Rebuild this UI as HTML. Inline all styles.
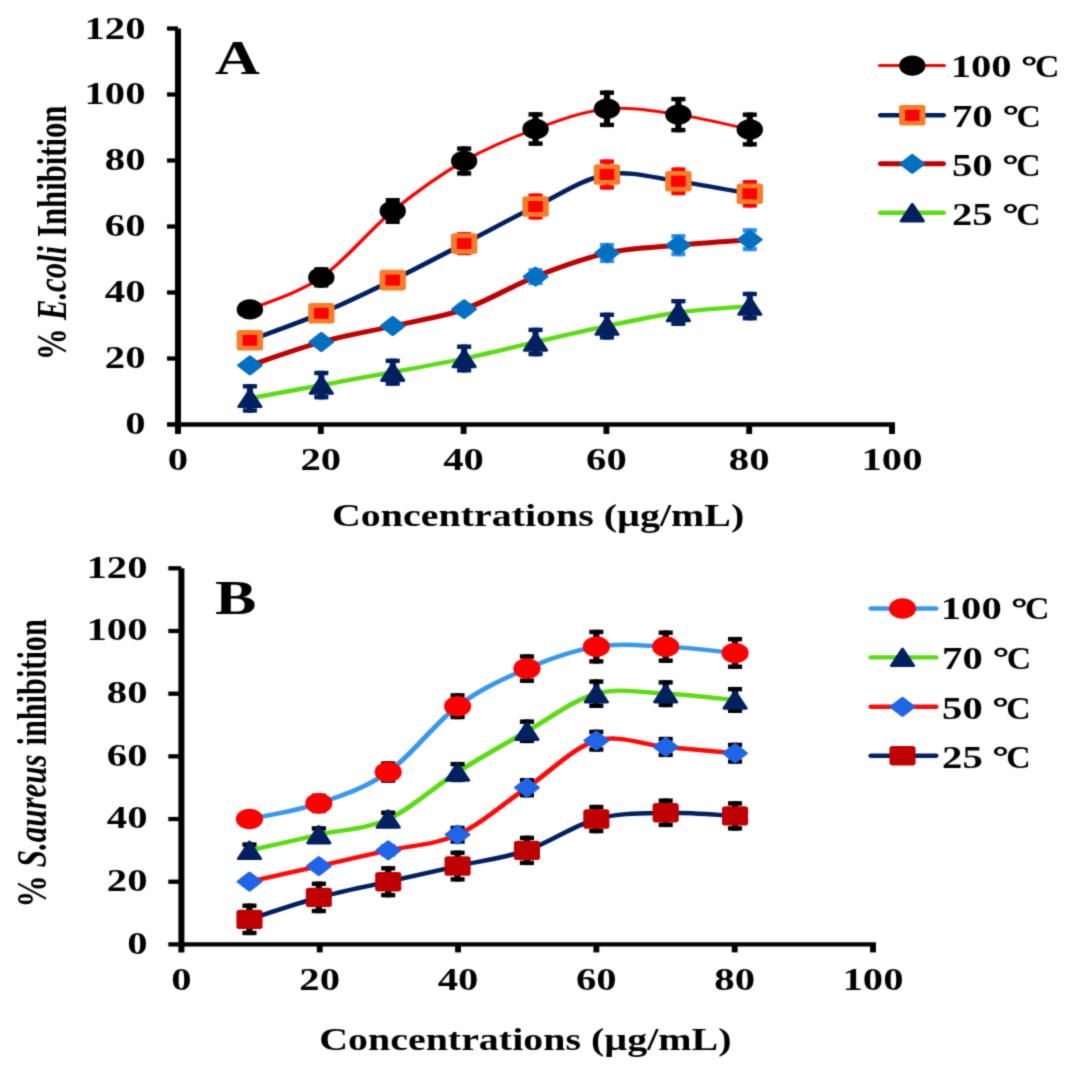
<!DOCTYPE html>
<html><head><meta charset="utf-8"><style>
html,body{margin:0;padding:0;background:#fff;}
svg{display:block;}
</style></head><body>
<svg width="1069" height="1069" viewBox="0 0 1069 1069">
<defs><filter id="bl" x="0" y="0" width="1069" height="1069" filterUnits="userSpaceOnUse" color-interpolation-filters="sRGB"><feConvolveMatrix order="3" kernelMatrix="0.02768 0.11101 0.02768 0.11101 0.44521 0.11101 0.02768 0.11101 0.02768" edgeMode="duplicate"/></filter></defs>
<rect width="1069" height="1069" fill="#fff"/>
<g filter="url(#bl)">
<g transform="scale(1.28,1)" font-family='"Liberation Serif", serif' font-weight="bold" fill="#000">
<g stroke="#000" stroke-linecap="butt" fill="none"><line x1="139.06" y1="28.50" x2="139.06" y2="434.00" stroke-width="4.7"/><line x1="130.47" y1="424.50" x2="699.17" y2="424.50" stroke-width="4.3"/><line x1="130.47" y1="358.50" x2="139.06" y2="358.50" stroke-width="4.3"/><line x1="130.47" y1="292.50" x2="139.06" y2="292.50" stroke-width="4.3"/><line x1="130.47" y1="226.50" x2="139.06" y2="226.50" stroke-width="4.3"/><line x1="130.47" y1="160.50" x2="139.06" y2="160.50" stroke-width="4.3"/><line x1="130.47" y1="94.50" x2="139.06" y2="94.50" stroke-width="4.3"/><line x1="130.47" y1="28.50" x2="139.06" y2="28.50" stroke-width="4.3"/><line x1="250.62" y1="424.50" x2="250.62" y2="434.00" stroke-width="4.6"/><line x1="362.19" y1="424.50" x2="362.19" y2="434.00" stroke-width="4.6"/><line x1="473.75" y1="424.50" x2="473.75" y2="434.00" stroke-width="4.6"/><line x1="585.31" y1="424.50" x2="585.31" y2="434.00" stroke-width="4.6"/><line x1="696.88" y1="424.50" x2="696.88" y2="434.00" stroke-width="4.6"/></g>
<text x="113.67" y="434.03" font-size="31.8" text-anchor="end">0</text>
<text x="113.67" y="368.03" font-size="31.8" text-anchor="end">20</text>
<text x="113.67" y="302.03" font-size="31.8" text-anchor="end">40</text>
<text x="113.67" y="236.03" font-size="31.8" text-anchor="end">60</text>
<text x="113.67" y="170.03" font-size="31.8" text-anchor="end">80</text>
<text x="113.67" y="104.04" font-size="31.8" text-anchor="end">100</text>
<text x="113.67" y="38.84" font-size="31.8" text-anchor="end">120</text>
<text x="139.06" y="470.20" font-size="31.8" text-anchor="middle">0</text>
<text x="250.62" y="470.20" font-size="31.8" text-anchor="middle">20</text>
<text x="362.19" y="470.20" font-size="31.8" text-anchor="middle">40</text>
<text x="473.75" y="470.20" font-size="31.8" text-anchor="middle">60</text>
<text x="585.31" y="470.20" font-size="31.8" text-anchor="middle">80</text>
<text x="696.88" y="470.20" font-size="31.8" text-anchor="middle">100</text>
<path d="M195.24,398.40 C204.54,396.18 232.43,389.47 251.03,385.10 C269.63,380.73 288.22,376.63 306.82,372.20 C325.42,367.77 344.01,363.53 362.61,358.50 C381.21,353.47 399.80,347.40 418.40,342.00 C436.99,336.60 455.59,331.02 474.19,326.10 C492.78,321.18 511.38,315.83 529.98,312.50 C548.57,309.17 576.47,307.17 585.77,306.10" fill="none" stroke="#5bdc14" stroke-width="4.4" stroke-linecap="round"/>
<rect x="192.84" y="384.10" width="4.80" height="28.60" fill="#002060"/><rect x="189.74" y="384.10" width="11.00" height="4.40" fill="#002060"/><rect x="189.74" y="408.30" width="11.00" height="4.40" fill="#002060"/><rect x="248.63" y="370.80" width="4.80" height="28.60" fill="#002060"/><rect x="245.53" y="370.80" width="11.00" height="4.40" fill="#002060"/><rect x="245.53" y="395.00" width="11.00" height="4.40" fill="#002060"/><rect x="304.42" y="358.60" width="4.80" height="27.20" fill="#002060"/><rect x="301.32" y="358.60" width="11.00" height="4.40" fill="#002060"/><rect x="301.32" y="381.40" width="11.00" height="4.40" fill="#002060"/><rect x="360.21" y="344.50" width="4.80" height="28.00" fill="#002060"/><rect x="357.11" y="344.50" width="11.00" height="4.40" fill="#002060"/><rect x="357.11" y="368.10" width="11.00" height="4.40" fill="#002060"/><rect x="416.00" y="327.70" width="4.80" height="28.60" fill="#002060"/><rect x="412.90" y="327.70" width="11.00" height="4.40" fill="#002060"/><rect x="412.90" y="351.90" width="11.00" height="4.40" fill="#002060"/><rect x="471.79" y="312.60" width="4.80" height="27.00" fill="#002060"/><rect x="468.69" y="312.60" width="11.00" height="4.40" fill="#002060"/><rect x="468.69" y="335.20" width="11.00" height="4.40" fill="#002060"/><rect x="527.58" y="299.00" width="4.80" height="27.00" fill="#002060"/><rect x="524.48" y="299.00" width="11.00" height="4.40" fill="#002060"/><rect x="524.48" y="321.60" width="11.00" height="4.40" fill="#002060"/><rect x="583.37" y="291.80" width="4.80" height="28.60" fill="#002060"/><rect x="580.27" y="291.80" width="11.00" height="4.40" fill="#002060"/><rect x="580.27" y="316.00" width="11.00" height="4.40" fill="#002060"/><path d="M195.24,390.00 L203.84,406.80 L186.64,406.80Z" fill="#002060" stroke="#002060" stroke-width="2.6" stroke-linejoin="round"/><path d="M251.03,376.70 L259.63,393.50 L242.43,393.50Z" fill="#002060" stroke="#002060" stroke-width="2.6" stroke-linejoin="round"/><path d="M306.82,363.80 L315.42,380.60 L298.22,380.60Z" fill="#002060" stroke="#002060" stroke-width="2.6" stroke-linejoin="round"/><path d="M362.61,350.10 L371.21,366.90 L354.01,366.90Z" fill="#002060" stroke="#002060" stroke-width="2.6" stroke-linejoin="round"/><path d="M418.40,333.60 L427.00,350.40 L409.80,350.40Z" fill="#002060" stroke="#002060" stroke-width="2.6" stroke-linejoin="round"/><path d="M474.19,317.70 L482.79,334.50 L465.59,334.50Z" fill="#002060" stroke="#002060" stroke-width="2.6" stroke-linejoin="round"/><path d="M529.98,304.10 L538.58,320.90 L521.38,320.90Z" fill="#002060" stroke="#002060" stroke-width="2.6" stroke-linejoin="round"/><path d="M585.77,297.70 L594.37,314.50 L577.17,314.50Z" fill="#002060" stroke="#002060" stroke-width="2.6" stroke-linejoin="round"/>
<path d="M195.24,365.40 C204.54,361.50 232.43,348.57 251.03,342.00 C269.63,335.43 288.22,331.47 306.82,326.00 C325.42,320.53 344.01,317.43 362.61,309.20 C381.21,300.97 399.80,285.97 418.40,276.60 C436.99,267.23 455.59,258.23 474.19,253.00 C492.78,247.77 511.38,247.42 529.98,245.20 C548.57,242.98 576.47,240.62 585.77,239.70" fill="none" stroke="#c00000" stroke-width="4.9" stroke-linecap="round"/>
<rect x="192.84" y="360.40" width="4.80" height="10.00" fill="#2f8ff0"/><rect x="189.74" y="360.40" width="11.00" height="4.40" fill="#2f8ff0"/><rect x="189.74" y="366.00" width="11.00" height="4.40" fill="#2f8ff0"/><rect x="248.63" y="337.00" width="4.80" height="10.00" fill="#2f8ff0"/><rect x="245.53" y="337.00" width="11.00" height="4.40" fill="#2f8ff0"/><rect x="245.53" y="342.60" width="11.00" height="4.40" fill="#2f8ff0"/><rect x="304.42" y="321.00" width="4.80" height="10.00" fill="#2f8ff0"/><rect x="301.32" y="321.00" width="11.00" height="4.40" fill="#2f8ff0"/><rect x="301.32" y="326.60" width="11.00" height="4.40" fill="#2f8ff0"/><rect x="360.21" y="303.20" width="4.80" height="12.00" fill="#2f8ff0"/><rect x="357.11" y="303.20" width="11.00" height="4.40" fill="#2f8ff0"/><rect x="357.11" y="310.80" width="11.00" height="4.40" fill="#2f8ff0"/><rect x="416.00" y="268.10" width="4.80" height="17.00" fill="#2f8ff0"/><rect x="412.90" y="268.10" width="11.00" height="4.40" fill="#2f8ff0"/><rect x="412.90" y="280.70" width="11.00" height="4.40" fill="#2f8ff0"/><rect x="471.79" y="242.90" width="4.80" height="20.20" fill="#2f8ff0"/><rect x="468.69" y="242.90" width="11.00" height="4.40" fill="#2f8ff0"/><rect x="468.69" y="258.70" width="11.00" height="4.40" fill="#2f8ff0"/><rect x="527.58" y="234.10" width="4.80" height="22.20" fill="#2f8ff0"/><rect x="524.48" y="234.10" width="11.00" height="4.40" fill="#2f8ff0"/><rect x="524.48" y="251.90" width="11.00" height="4.40" fill="#2f8ff0"/><rect x="583.37" y="228.20" width="4.80" height="23.00" fill="#2f8ff0"/><rect x="580.27" y="228.20" width="11.00" height="4.40" fill="#2f8ff0"/><rect x="580.27" y="246.80" width="11.00" height="4.40" fill="#2f8ff0"/><path d="M195.24,356.60 L204.14,365.40 L195.24,374.20 L186.34,365.40Z" fill="#0070c0" stroke="#0070c0" stroke-width="2.40" stroke-linejoin="round"/><path d="M251.03,333.20 L259.93,342.00 L251.03,350.80 L242.13,342.00Z" fill="#0070c0" stroke="#0070c0" stroke-width="2.40" stroke-linejoin="round"/><path d="M306.82,317.20 L315.72,326.00 L306.82,334.80 L297.92,326.00Z" fill="#0070c0" stroke="#0070c0" stroke-width="2.40" stroke-linejoin="round"/><path d="M362.61,300.40 L371.51,309.20 L362.61,318.00 L353.71,309.20Z" fill="#0070c0" stroke="#0070c0" stroke-width="2.40" stroke-linejoin="round"/><path d="M418.40,267.80 L427.30,276.60 L418.40,285.40 L409.50,276.60Z" fill="#0070c0" stroke="#0070c0" stroke-width="2.40" stroke-linejoin="round"/><path d="M474.19,244.20 L483.09,253.00 L474.19,261.80 L465.29,253.00Z" fill="#0070c0" stroke="#0070c0" stroke-width="2.40" stroke-linejoin="round"/><path d="M529.98,236.40 L538.88,245.20 L529.98,254.00 L521.08,245.20Z" fill="#0070c0" stroke="#0070c0" stroke-width="2.40" stroke-linejoin="round"/><path d="M585.77,230.90 L594.67,239.70 L585.77,248.50 L576.87,239.70Z" fill="#0070c0" stroke="#0070c0" stroke-width="2.40" stroke-linejoin="round"/>
<path d="M195.24,340.30 C204.54,335.80 232.43,323.33 251.03,313.30 C269.63,303.27 288.22,291.72 306.82,280.10 C325.42,268.48 344.01,255.87 362.61,243.60 C381.21,231.33 399.80,218.02 418.40,206.50 C436.99,194.98 455.59,178.70 474.19,174.50 C492.78,170.30 511.38,178.08 529.98,181.30 C548.57,184.52 576.47,191.72 585.77,193.80" fill="none" stroke="#002060" stroke-width="4.4" stroke-linecap="round"/>
<rect x="192.84" y="333.30" width="4.80" height="14.00" fill="#ff0000"/><rect x="189.74" y="333.30" width="11.00" height="4.40" fill="#ff0000"/><rect x="189.74" y="342.90" width="11.00" height="4.40" fill="#ff0000"/><rect x="248.63" y="306.30" width="4.80" height="14.00" fill="#ff0000"/><rect x="245.53" y="306.30" width="11.00" height="4.40" fill="#ff0000"/><rect x="245.53" y="315.90" width="11.00" height="4.40" fill="#ff0000"/><rect x="304.42" y="273.10" width="4.80" height="14.00" fill="#ff0000"/><rect x="301.32" y="273.10" width="11.00" height="4.40" fill="#ff0000"/><rect x="301.32" y="282.70" width="11.00" height="4.40" fill="#ff0000"/><rect x="360.21" y="232.10" width="4.80" height="23.00" fill="#ff0000"/><rect x="357.11" y="232.10" width="11.00" height="4.40" fill="#ff0000"/><rect x="357.11" y="250.70" width="11.00" height="4.40" fill="#ff0000"/><rect x="416.00" y="193.50" width="4.80" height="26.00" fill="#ff0000"/><rect x="412.90" y="193.50" width="11.00" height="4.40" fill="#ff0000"/><rect x="412.90" y="215.10" width="11.00" height="4.40" fill="#ff0000"/><rect x="471.79" y="159.40" width="4.80" height="30.20" fill="#ff0000"/><rect x="468.69" y="159.40" width="11.00" height="4.40" fill="#ff0000"/><rect x="468.69" y="185.20" width="11.00" height="4.40" fill="#ff0000"/><rect x="527.58" y="167.40" width="4.80" height="27.80" fill="#ff0000"/><rect x="524.48" y="167.40" width="11.00" height="4.40" fill="#ff0000"/><rect x="524.48" y="190.80" width="11.00" height="4.40" fill="#ff0000"/><rect x="583.37" y="180.00" width="4.80" height="27.60" fill="#ff0000"/><rect x="580.27" y="180.00" width="11.00" height="4.40" fill="#ff0000"/><rect x="580.27" y="203.20" width="11.00" height="4.40" fill="#ff0000"/><rect x="184.94" y="330.00" width="20.60" height="20.60" rx="2.6" fill="#f77d28"/><rect x="189.54" y="334.80" width="11.40" height="11.00" fill="#ff0000"/><rect x="240.73" y="303.00" width="20.60" height="20.60" rx="2.6" fill="#f77d28"/><rect x="245.33" y="307.80" width="11.40" height="11.00" fill="#ff0000"/><rect x="296.52" y="269.80" width="20.60" height="20.60" rx="2.6" fill="#f77d28"/><rect x="301.12" y="274.60" width="11.40" height="11.00" fill="#ff0000"/><rect x="352.31" y="233.30" width="20.60" height="20.60" rx="2.6" fill="#f77d28"/><rect x="356.91" y="238.10" width="11.40" height="11.00" fill="#ff0000"/><rect x="408.10" y="196.20" width="20.60" height="20.60" rx="2.6" fill="#f77d28"/><rect x="412.70" y="201.00" width="11.40" height="11.00" fill="#ff0000"/><rect x="463.89" y="164.20" width="20.60" height="20.60" rx="2.6" fill="#f77d28"/><rect x="468.49" y="169.00" width="11.40" height="11.00" fill="#ff0000"/><rect x="519.68" y="171.00" width="20.60" height="20.60" rx="2.6" fill="#f77d28"/><rect x="524.28" y="175.80" width="11.40" height="11.00" fill="#ff0000"/><rect x="575.47" y="183.50" width="20.60" height="20.60" rx="2.6" fill="#f77d28"/><rect x="580.07" y="188.30" width="11.40" height="11.00" fill="#ff0000"/>
<path d="M195.24,309.40 C204.54,304.07 232.43,293.80 251.03,277.40 C269.63,261.00 288.22,230.40 306.82,211.00 C325.42,191.60 344.01,174.67 362.61,161.00 C381.21,147.33 399.80,137.70 418.40,129.00 C436.99,120.30 455.59,111.20 474.19,108.80 C492.78,106.40 511.38,111.15 529.98,114.60 C548.57,118.05 576.47,127.02 585.77,129.50" fill="none" stroke="#ff0000" stroke-width="3.0" stroke-linecap="round"/>
<rect x="192.84" y="301.40" width="4.80" height="16.00" fill="#000000"/><rect x="189.74" y="301.40" width="11.00" height="4.40" fill="#000000"/><rect x="189.74" y="313.00" width="11.00" height="4.40" fill="#000000"/><rect x="248.63" y="267.20" width="4.80" height="20.40" fill="#000000"/><rect x="245.53" y="267.20" width="11.00" height="4.40" fill="#000000"/><rect x="245.53" y="283.20" width="11.00" height="4.40" fill="#000000"/><rect x="304.42" y="198.00" width="4.80" height="26.00" fill="#000000"/><rect x="301.32" y="198.00" width="11.00" height="4.40" fill="#000000"/><rect x="301.32" y="219.60" width="11.00" height="4.40" fill="#000000"/><rect x="360.21" y="146.40" width="4.80" height="29.20" fill="#000000"/><rect x="357.11" y="146.40" width="11.00" height="4.40" fill="#000000"/><rect x="357.11" y="171.20" width="11.00" height="4.40" fill="#000000"/><rect x="416.00" y="112.20" width="4.80" height="33.60" fill="#000000"/><rect x="412.90" y="112.20" width="11.00" height="4.40" fill="#000000"/><rect x="412.90" y="141.40" width="11.00" height="4.40" fill="#000000"/><rect x="471.79" y="90.50" width="4.80" height="36.60" fill="#000000"/><rect x="468.69" y="90.50" width="11.00" height="4.40" fill="#000000"/><rect x="468.69" y="122.70" width="11.00" height="4.40" fill="#000000"/><rect x="527.58" y="96.90" width="4.80" height="35.40" fill="#000000"/><rect x="524.48" y="96.90" width="11.00" height="4.40" fill="#000000"/><rect x="524.48" y="127.90" width="11.00" height="4.40" fill="#000000"/><rect x="583.37" y="112.50" width="4.80" height="34.00" fill="#000000"/><rect x="580.27" y="112.50" width="11.00" height="4.40" fill="#000000"/><rect x="580.27" y="142.10" width="11.00" height="4.40" fill="#000000"/><ellipse cx="195.24" cy="309.40" rx="10.30" ry="10.20" fill="#000000"/><ellipse cx="251.03" cy="277.40" rx="10.30" ry="10.20" fill="#000000"/><ellipse cx="306.82" cy="211.00" rx="10.30" ry="10.20" fill="#000000"/><ellipse cx="362.61" cy="161.00" rx="10.30" ry="10.20" fill="#000000"/><ellipse cx="418.40" cy="129.00" rx="10.30" ry="10.20" fill="#000000"/><ellipse cx="474.19" cy="108.80" rx="10.30" ry="10.20" fill="#000000"/><ellipse cx="529.98" cy="114.60" rx="10.30" ry="10.20" fill="#000000"/><ellipse cx="585.77" cy="129.50" rx="10.30" ry="10.20" fill="#000000"/>
<line x1="687.44" y1="65.60" x2="737.56" y2="65.60" stroke="#ff0000" stroke-width="3.0" stroke-linecap="round"/>
<ellipse cx="712.73" cy="65.60" rx="10.30" ry="10.20" fill="#000000"/>
<line x1="688.14" y1="115.30" x2="736.86" y2="115.30" stroke="#002060" stroke-width="4.4" stroke-linecap="round"/>
<rect x="702.43" y="105.00" width="20.60" height="20.60" rx="2.6" fill="#f77d28"/><rect x="707.03" y="109.80" width="11.40" height="11.00" fill="#ff0000"/>
<line x1="688.39" y1="163.80" x2="736.61" y2="163.80" stroke="#c00000" stroke-width="4.9" stroke-linecap="round"/>
<path d="M712.73,155.00 L721.63,163.80 L712.73,172.60 L703.83,163.80Z" fill="#0070c0" stroke="#0070c0" stroke-width="2.40" stroke-linejoin="round"/>
<line x1="688.14" y1="212.80" x2="736.86" y2="212.80" stroke="#5bdc14" stroke-width="4.4" stroke-linecap="round"/>
<path d="M712.73,204.40 L721.33,221.20 L704.13,221.20Z" fill="#002060" stroke="#002060" stroke-width="2.6" stroke-linejoin="round"/>
<text x="742.69" y="77.43" font-size="31.8" text-anchor="start">100</text>
<path fill-rule="evenodd" d="M798.95,61.00 a5.12,4.35 0 1,0 10.23,0 a5.12,4.35 0 1,0 -10.23,0 Z M801.56,61.00 a2.50,2.55 0 1,0 5.00,0 a2.50,2.55 0 1,0 -5.00,0 Z"/>
<text x="808.60" y="77.43" font-size="31.8" text-anchor="start" textLength="19.08" lengthAdjust="spacingAndGlyphs">C</text>
<text x="743.71" y="126.63" font-size="31.8" text-anchor="start">70</text>
<path fill-rule="evenodd" d="M784.57,110.20 a5.12,4.35 0 1,0 10.23,0 a5.12,4.35 0 1,0 -10.23,0 Z M787.19,110.20 a2.50,2.55 0 1,0 5.00,0 a2.50,2.55 0 1,0 -5.00,0 Z"/>
<text x="794.23" y="126.63" font-size="31.8" text-anchor="start" textLength="19.08" lengthAdjust="spacingAndGlyphs">C</text>
<text x="743.71" y="176.13" font-size="31.8" text-anchor="start">50</text>
<path fill-rule="evenodd" d="M784.26,159.70 a5.12,4.35 0 1,0 10.23,0 a5.12,4.35 0 1,0 -10.23,0 Z M786.88,159.70 a2.50,2.55 0 1,0 5.00,0 a2.50,2.55 0 1,0 -5.00,0 Z"/>
<text x="793.91" y="176.13" font-size="31.8" text-anchor="start" textLength="19.08" lengthAdjust="spacingAndGlyphs">C</text>
<text x="743.71" y="225.03" font-size="31.8" text-anchor="start">25</text>
<path fill-rule="evenodd" d="M784.26,208.60 a5.12,4.35 0 1,0 10.23,0 a5.12,4.35 0 1,0 -10.23,0 Z M786.88,208.60 a2.50,2.55 0 1,0 5.00,0 a2.50,2.55 0 1,0 -5.00,0 Z"/>
<text x="793.91" y="225.03" font-size="31.8" text-anchor="start" textLength="19.08" lengthAdjust="spacingAndGlyphs">C</text>
<text x="167.97" y="73.60" font-size="48.5" text-anchor="start">A</text>
<text x="0" y="0" font-size="32.4" textLength="32.10" lengthAdjust="spacingAndGlyphs" transform="translate(51.56,360.21) rotate(-90)">%</text>
<text x="0" y="0" font-size="32.4" font-style="italic" textLength="73.99" lengthAdjust="spacingAndGlyphs" transform="translate(51.56,319.99) rotate(-90)">E.coli</text>
<text x="0" y="0" font-size="32.4" textLength="131.33" lengthAdjust="spacingAndGlyphs" transform="translate(51.56,236.92) rotate(-90)">Inhibition</text>
<text x="259.38" y="526.30" font-size="31.2" text-anchor="start">Concentrations (µg/mL)</text>
<g stroke="#000" stroke-linecap="butt" fill="none"><line x1="141.72" y1="568.32" x2="141.72" y2="952.40" stroke-width="4.7"/><line x1="131.48" y1="944.40" x2="684.33" y2="944.40" stroke-width="4.3"/><line x1="131.48" y1="881.72" x2="141.72" y2="881.72" stroke-width="4.3"/><line x1="131.48" y1="819.04" x2="141.72" y2="819.04" stroke-width="4.3"/><line x1="131.48" y1="756.36" x2="141.72" y2="756.36" stroke-width="4.3"/><line x1="131.48" y1="693.68" x2="141.72" y2="693.68" stroke-width="4.3"/><line x1="131.48" y1="631.00" x2="141.72" y2="631.00" stroke-width="4.3"/><line x1="131.48" y1="568.32" x2="141.72" y2="568.32" stroke-width="4.3"/><line x1="249.78" y1="944.40" x2="249.78" y2="952.40" stroke-width="4.6"/><line x1="357.84" y1="944.40" x2="357.84" y2="952.40" stroke-width="4.6"/><line x1="465.91" y1="944.40" x2="465.91" y2="952.40" stroke-width="4.6"/><line x1="573.97" y1="944.40" x2="573.97" y2="952.40" stroke-width="4.6"/><line x1="682.03" y1="944.40" x2="682.03" y2="952.40" stroke-width="4.6"/></g>
<text x="115.23" y="953.74" font-size="31.8" text-anchor="end">0</text>
<text x="115.23" y="891.06" font-size="31.8" text-anchor="end">20</text>
<text x="115.23" y="828.38" font-size="31.8" text-anchor="end">40</text>
<text x="115.23" y="765.70" font-size="31.8" text-anchor="end">60</text>
<text x="115.23" y="703.01" font-size="31.8" text-anchor="end">80</text>
<text x="115.23" y="640.34" font-size="31.8" text-anchor="end">100</text>
<text x="115.23" y="577.65" font-size="31.8" text-anchor="end">120</text>
<text x="141.72" y="990.00" font-size="31.8" text-anchor="middle">0</text>
<text x="249.78" y="990.00" font-size="31.8" text-anchor="middle">20</text>
<text x="357.84" y="990.00" font-size="31.8" text-anchor="middle">40</text>
<text x="465.91" y="990.00" font-size="31.8" text-anchor="middle">60</text>
<text x="573.97" y="990.00" font-size="31.8" text-anchor="middle">80</text>
<text x="682.03" y="990.00" font-size="31.8" text-anchor="middle">100</text>
<path d="M194.90,919.33 C203.93,915.67 231.03,903.66 249.09,897.39 C267.16,891.12 285.22,886.94 303.29,881.72 C321.35,876.50 339.42,871.27 357.48,866.05 C375.55,860.83 393.61,858.22 411.68,850.38 C429.74,842.54 447.81,825.31 465.88,819.04 C483.94,812.77 502.01,813.29 520.07,812.77 C538.14,812.25 565.23,815.38 574.27,815.91" fill="none" stroke="#002060" stroke-width="4.4" stroke-linecap="round"/>
<rect x="192.50" y="903.53" width="4.80" height="31.60" fill="#000000"/><rect x="189.40" y="903.53" width="11.00" height="4.40" fill="#000000"/><rect x="189.40" y="930.73" width="11.00" height="4.40" fill="#000000"/><rect x="246.69" y="881.59" width="4.80" height="31.60" fill="#000000"/><rect x="243.59" y="881.59" width="11.00" height="4.40" fill="#000000"/><rect x="243.59" y="908.79" width="11.00" height="4.40" fill="#000000"/><rect x="300.89" y="866.12" width="4.80" height="31.20" fill="#000000"/><rect x="297.79" y="866.12" width="11.00" height="4.40" fill="#000000"/><rect x="297.79" y="892.92" width="11.00" height="4.40" fill="#000000"/><rect x="355.08" y="850.55" width="4.80" height="31.00" fill="#000000"/><rect x="351.98" y="850.55" width="11.00" height="4.40" fill="#000000"/><rect x="351.98" y="877.15" width="11.00" height="4.40" fill="#000000"/><rect x="409.28" y="835.68" width="4.80" height="29.40" fill="#000000"/><rect x="406.18" y="835.68" width="11.00" height="4.40" fill="#000000"/><rect x="406.18" y="860.68" width="11.00" height="4.40" fill="#000000"/><rect x="463.48" y="804.84" width="4.80" height="28.40" fill="#000000"/><rect x="460.38" y="804.84" width="11.00" height="4.40" fill="#000000"/><rect x="460.38" y="828.84" width="11.00" height="4.40" fill="#000000"/><rect x="517.67" y="798.47" width="4.80" height="28.60" fill="#000000"/><rect x="514.57" y="798.47" width="11.00" height="4.40" fill="#000000"/><rect x="514.57" y="822.67" width="11.00" height="4.40" fill="#000000"/><rect x="571.87" y="801.21" width="4.80" height="29.40" fill="#000000"/><rect x="568.77" y="801.21" width="11.00" height="4.40" fill="#000000"/><rect x="568.77" y="826.21" width="11.00" height="4.40" fill="#000000"/><rect x="184.70" y="909.63" width="20.40" height="19.40" rx="2.6" fill="#c00000"/><rect x="238.89" y="887.69" width="20.40" height="19.40" rx="2.6" fill="#c00000"/><rect x="293.09" y="872.02" width="20.40" height="19.40" rx="2.6" fill="#c00000"/><rect x="347.28" y="856.35" width="20.40" height="19.40" rx="2.6" fill="#c00000"/><rect x="401.48" y="840.68" width="20.40" height="19.40" rx="2.6" fill="#c00000"/><rect x="455.68" y="809.34" width="20.40" height="19.40" rx="2.6" fill="#c00000"/><rect x="509.87" y="803.07" width="20.40" height="19.40" rx="2.6" fill="#c00000"/><rect x="564.07" y="806.21" width="20.40" height="19.40" rx="2.6" fill="#c00000"/>
<path d="M194.90,881.72 C203.93,879.11 231.03,871.27 249.09,866.05 C267.16,860.83 285.22,855.60 303.29,850.38 C321.35,845.16 339.42,845.16 357.48,834.71 C375.55,824.26 393.61,803.37 411.68,787.70 C429.74,772.03 447.81,747.48 465.88,740.69 C483.94,733.90 502.01,744.87 520.07,746.96 C538.14,749.05 565.23,752.18 574.27,753.23" fill="none" stroke="#ff0a0a" stroke-width="4.4" stroke-linecap="round"/>
<rect x="192.50" y="876.72" width="4.80" height="10.00" fill="#000000"/><rect x="189.40" y="876.72" width="11.00" height="4.40" fill="#000000"/><rect x="189.40" y="882.32" width="11.00" height="4.40" fill="#000000"/><rect x="246.69" y="861.05" width="4.80" height="10.00" fill="#000000"/><rect x="243.59" y="861.05" width="11.00" height="4.40" fill="#000000"/><rect x="243.59" y="866.65" width="11.00" height="4.40" fill="#000000"/><rect x="300.89" y="844.38" width="4.80" height="12.00" fill="#000000"/><rect x="297.79" y="844.38" width="11.00" height="4.40" fill="#000000"/><rect x="297.79" y="851.98" width="11.00" height="4.40" fill="#000000"/><rect x="355.08" y="825.71" width="4.80" height="18.00" fill="#000000"/><rect x="351.98" y="825.71" width="11.00" height="4.40" fill="#000000"/><rect x="351.98" y="839.31" width="11.00" height="4.40" fill="#000000"/><rect x="409.28" y="778.00" width="4.80" height="19.40" fill="#000000"/><rect x="406.18" y="778.00" width="11.00" height="4.40" fill="#000000"/><rect x="406.18" y="793.00" width="11.00" height="4.40" fill="#000000"/><rect x="463.48" y="729.69" width="4.80" height="22.00" fill="#000000"/><rect x="460.38" y="729.69" width="11.00" height="4.40" fill="#000000"/><rect x="460.38" y="747.29" width="11.00" height="4.40" fill="#000000"/><rect x="517.67" y="736.86" width="4.80" height="20.20" fill="#000000"/><rect x="514.57" y="736.86" width="11.00" height="4.40" fill="#000000"/><rect x="514.57" y="752.66" width="11.00" height="4.40" fill="#000000"/><rect x="571.87" y="742.73" width="4.80" height="21.00" fill="#000000"/><rect x="568.77" y="742.73" width="11.00" height="4.40" fill="#000000"/><rect x="568.77" y="759.33" width="11.00" height="4.40" fill="#000000"/><path d="M194.90,872.92 L203.80,881.72 L194.90,890.52 L186.00,881.72Z" fill="#2064e8" stroke="#2064e8" stroke-width="2.40" stroke-linejoin="round"/><path d="M249.09,857.25 L257.99,866.05 L249.09,874.85 L240.19,866.05Z" fill="#2064e8" stroke="#2064e8" stroke-width="2.40" stroke-linejoin="round"/><path d="M303.29,841.58 L312.19,850.38 L303.29,859.18 L294.39,850.38Z" fill="#2064e8" stroke="#2064e8" stroke-width="2.40" stroke-linejoin="round"/><path d="M357.48,825.91 L366.38,834.71 L357.48,843.51 L348.58,834.71Z" fill="#2064e8" stroke="#2064e8" stroke-width="2.40" stroke-linejoin="round"/><path d="M411.68,778.90 L420.58,787.70 L411.68,796.50 L402.78,787.70Z" fill="#2064e8" stroke="#2064e8" stroke-width="2.40" stroke-linejoin="round"/><path d="M465.88,731.89 L474.78,740.69 L465.88,749.49 L456.98,740.69Z" fill="#2064e8" stroke="#2064e8" stroke-width="2.40" stroke-linejoin="round"/><path d="M520.07,738.16 L528.97,746.96 L520.07,755.76 L511.17,746.96Z" fill="#2064e8" stroke="#2064e8" stroke-width="2.40" stroke-linejoin="round"/><path d="M574.27,744.43 L583.17,753.23 L574.27,762.03 L565.37,753.23Z" fill="#2064e8" stroke="#2064e8" stroke-width="2.40" stroke-linejoin="round"/>
<path d="M194.90,850.38 C203.93,847.77 231.03,839.93 249.09,834.71 C267.16,829.49 285.22,829.49 303.29,819.04 C321.35,808.59 339.42,786.66 357.48,772.03 C375.55,757.40 393.61,744.35 411.68,731.29 C429.74,718.23 447.81,699.95 465.88,693.68 C483.94,687.41 502.01,692.64 520.07,693.68 C538.14,694.72 565.23,698.90 574.27,699.95" fill="none" stroke="#5bdc14" stroke-width="4.4" stroke-linecap="round"/>
<rect x="192.50" y="842.38" width="4.80" height="16.00" fill="#000000"/><rect x="189.40" y="842.38" width="11.00" height="4.40" fill="#000000"/><rect x="189.40" y="853.98" width="11.00" height="4.40" fill="#000000"/><rect x="246.69" y="826.21" width="4.80" height="17.00" fill="#000000"/><rect x="243.59" y="826.21" width="11.00" height="4.40" fill="#000000"/><rect x="243.59" y="838.81" width="11.00" height="4.40" fill="#000000"/><rect x="300.89" y="810.54" width="4.80" height="17.00" fill="#000000"/><rect x="297.79" y="810.54" width="11.00" height="4.40" fill="#000000"/><rect x="297.79" y="823.14" width="11.00" height="4.40" fill="#000000"/><rect x="355.08" y="761.93" width="4.80" height="20.20" fill="#000000"/><rect x="351.98" y="761.93" width="11.00" height="4.40" fill="#000000"/><rect x="351.98" y="777.73" width="11.00" height="4.40" fill="#000000"/><rect x="409.28" y="719.49" width="4.80" height="23.60" fill="#000000"/><rect x="406.18" y="719.49" width="11.00" height="4.40" fill="#000000"/><rect x="406.18" y="738.69" width="11.00" height="4.40" fill="#000000"/><rect x="463.48" y="679.38" width="4.80" height="28.60" fill="#000000"/><rect x="460.38" y="679.38" width="11.00" height="4.40" fill="#000000"/><rect x="460.38" y="703.58" width="11.00" height="4.40" fill="#000000"/><rect x="517.67" y="680.18" width="4.80" height="27.00" fill="#000000"/><rect x="514.57" y="680.18" width="11.00" height="4.40" fill="#000000"/><rect x="514.57" y="702.78" width="11.00" height="4.40" fill="#000000"/><rect x="571.87" y="686.95" width="4.80" height="26.00" fill="#000000"/><rect x="568.77" y="686.95" width="11.00" height="4.40" fill="#000000"/><rect x="568.77" y="708.55" width="11.00" height="4.40" fill="#000000"/><path d="M194.90,841.98 L203.50,858.78 L186.30,858.78Z" fill="#002060" stroke="#002060" stroke-width="2.6" stroke-linejoin="round"/><path d="M249.09,826.31 L257.69,843.11 L240.49,843.11Z" fill="#002060" stroke="#002060" stroke-width="2.6" stroke-linejoin="round"/><path d="M303.29,810.64 L311.89,827.44 L294.69,827.44Z" fill="#002060" stroke="#002060" stroke-width="2.6" stroke-linejoin="round"/><path d="M357.48,763.63 L366.08,780.43 L348.88,780.43Z" fill="#002060" stroke="#002060" stroke-width="2.6" stroke-linejoin="round"/><path d="M411.68,722.89 L420.28,739.69 L403.08,739.69Z" fill="#002060" stroke="#002060" stroke-width="2.6" stroke-linejoin="round"/><path d="M465.88,685.28 L474.48,702.08 L457.28,702.08Z" fill="#002060" stroke="#002060" stroke-width="2.6" stroke-linejoin="round"/><path d="M520.07,685.28 L528.67,702.08 L511.47,702.08Z" fill="#002060" stroke="#002060" stroke-width="2.6" stroke-linejoin="round"/><path d="M574.27,691.55 L582.87,708.35 L565.67,708.35Z" fill="#002060" stroke="#002060" stroke-width="2.6" stroke-linejoin="round"/>
<path d="M194.90,819.04 C203.93,816.43 231.03,811.21 249.09,803.37 C267.16,795.53 285.22,788.22 303.29,772.03 C321.35,755.84 339.42,723.45 357.48,706.22 C375.55,688.98 393.61,678.53 411.68,668.61 C429.74,658.68 447.81,650.33 465.88,646.67 C483.94,643.01 502.01,645.63 520.07,646.67 C538.14,647.71 565.23,651.89 574.27,652.94" fill="none" stroke="#3798f0" stroke-width="4.4" stroke-linecap="round"/>
<rect x="192.50" y="811.04" width="4.80" height="16.00" fill="#000000"/><rect x="189.40" y="811.04" width="11.00" height="4.40" fill="#000000"/><rect x="189.40" y="822.64" width="11.00" height="4.40" fill="#000000"/><rect x="246.69" y="793.57" width="4.80" height="19.60" fill="#000000"/><rect x="243.59" y="793.57" width="11.00" height="4.40" fill="#000000"/><rect x="243.59" y="808.77" width="11.00" height="4.40" fill="#000000"/><rect x="300.89" y="761.33" width="4.80" height="21.40" fill="#000000"/><rect x="297.79" y="761.33" width="11.00" height="4.40" fill="#000000"/><rect x="297.79" y="778.33" width="11.00" height="4.40" fill="#000000"/><rect x="355.08" y="693.22" width="4.80" height="26.00" fill="#000000"/><rect x="351.98" y="693.22" width="11.00" height="4.40" fill="#000000"/><rect x="351.98" y="714.82" width="11.00" height="4.40" fill="#000000"/><rect x="409.28" y="654.31" width="4.80" height="28.60" fill="#000000"/><rect x="406.18" y="654.31" width="11.00" height="4.40" fill="#000000"/><rect x="406.18" y="678.51" width="11.00" height="4.40" fill="#000000"/><rect x="463.48" y="629.77" width="4.80" height="33.80" fill="#000000"/><rect x="460.38" y="629.77" width="11.00" height="4.40" fill="#000000"/><rect x="460.38" y="659.17" width="11.00" height="4.40" fill="#000000"/><rect x="517.67" y="630.47" width="4.80" height="32.40" fill="#000000"/><rect x="514.57" y="630.47" width="11.00" height="4.40" fill="#000000"/><rect x="514.57" y="658.47" width="11.00" height="4.40" fill="#000000"/><rect x="571.87" y="636.94" width="4.80" height="32.00" fill="#000000"/><rect x="568.77" y="636.94" width="11.00" height="4.40" fill="#000000"/><rect x="568.77" y="664.54" width="11.00" height="4.40" fill="#000000"/><ellipse cx="194.90" cy="819.04" rx="10.60" ry="10.30" fill="#ff0000"/><ellipse cx="249.09" cy="803.37" rx="10.60" ry="10.30" fill="#ff0000"/><ellipse cx="303.29" cy="772.03" rx="10.60" ry="10.30" fill="#ff0000"/><ellipse cx="357.48" cy="706.22" rx="10.60" ry="10.30" fill="#ff0000"/><ellipse cx="411.68" cy="668.61" rx="10.60" ry="10.30" fill="#ff0000"/><ellipse cx="465.88" cy="646.67" rx="10.60" ry="10.30" fill="#ff0000"/><ellipse cx="520.07" cy="646.67" rx="10.60" ry="10.30" fill="#ff0000"/><ellipse cx="574.27" cy="652.94" rx="10.60" ry="10.30" fill="#ff0000"/>
<line x1="680.64" y1="608.50" x2="731.00" y2="608.50" stroke="#3798f0" stroke-width="4.4" stroke-linecap="round"/>
<ellipse cx="705.08" cy="608.50" rx="10.60" ry="10.30" fill="#ff0000"/>
<line x1="680.64" y1="657.40" x2="731.00" y2="657.40" stroke="#5bdc14" stroke-width="4.4" stroke-linecap="round"/>
<path d="M705.08,649.00 L713.68,665.80 L696.48,665.80Z" fill="#002060" stroke="#002060" stroke-width="2.6" stroke-linejoin="round"/>
<line x1="680.64" y1="706.80" x2="731.00" y2="706.80" stroke="#ff0a0a" stroke-width="4.4" stroke-linecap="round"/>
<path d="M705.08,698.00 L713.98,706.80 L705.08,715.60 L696.18,706.80Z" fill="#2064e8" stroke="#2064e8" stroke-width="2.40" stroke-linejoin="round"/>
<line x1="680.64" y1="755.70" x2="731.00" y2="755.70" stroke="#002060" stroke-width="4.4" stroke-linecap="round"/>
<rect x="694.88" y="746.00" width="20.40" height="19.40" rx="2.6" fill="#c00000"/>
<text x="734.96" y="619.43" font-size="31.8" text-anchor="start">100</text>
<path fill-rule="evenodd" d="M791.21,603.00 a5.12,4.35 0 1,0 10.23,0 a5.12,4.35 0 1,0 -10.23,0 Z M793.83,603.00 a2.50,2.55 0 1,0 5.00,0 a2.50,2.55 0 1,0 -5.00,0 Z"/>
<text x="800.87" y="619.43" font-size="31.8" text-anchor="start" textLength="19.08" lengthAdjust="spacingAndGlyphs">C</text>
<text x="735.97" y="668.83" font-size="31.8" text-anchor="start">70</text>
<path fill-rule="evenodd" d="M776.84,652.40 a5.12,4.35 0 1,0 10.23,0 a5.12,4.35 0 1,0 -10.23,0 Z M779.45,652.40 a2.50,2.55 0 1,0 5.00,0 a2.50,2.55 0 1,0 -5.00,0 Z"/>
<text x="786.49" y="668.83" font-size="31.8" text-anchor="start" textLength="19.08" lengthAdjust="spacingAndGlyphs">C</text>
<text x="735.97" y="718.63" font-size="31.8" text-anchor="start">50</text>
<path fill-rule="evenodd" d="M776.52,702.20 a5.12,4.35 0 1,0 10.23,0 a5.12,4.35 0 1,0 -10.23,0 Z M779.14,702.20 a2.50,2.55 0 1,0 5.00,0 a2.50,2.55 0 1,0 -5.00,0 Z"/>
<text x="786.18" y="718.63" font-size="31.8" text-anchor="start" textLength="19.08" lengthAdjust="spacingAndGlyphs">C</text>
<text x="735.97" y="767.83" font-size="31.8" text-anchor="start">25</text>
<path fill-rule="evenodd" d="M776.52,751.40 a5.12,4.35 0 1,0 10.23,0 a5.12,4.35 0 1,0 -10.23,0 Z M779.14,751.40 a2.50,2.55 0 1,0 5.00,0 a2.50,2.55 0 1,0 -5.00,0 Z"/>
<text x="786.18" y="767.83" font-size="31.8" text-anchor="start" textLength="19.08" lengthAdjust="spacingAndGlyphs">C</text>
<text x="167.97" y="614.00" font-size="48.5" text-anchor="start">B</text>
<text x="0" y="0" font-size="32.4" textLength="32.22" lengthAdjust="spacingAndGlyphs" transform="translate(35.62,907.42) rotate(-90)">%</text>
<text x="0" y="0" font-size="32.4" font-style="italic" textLength="112.87" lengthAdjust="spacingAndGlyphs" transform="translate(35.62,867.32) rotate(-90)">S.aureus</text>
<text x="0" y="0" font-size="32.4" textLength="126.37" lengthAdjust="spacingAndGlyphs" transform="translate(35.62,745.51) rotate(-90)">inhibition</text>
<text x="249.38" y="1050.50" font-size="31.2" text-anchor="start">Concentrations (µg/mL)</text>
</g>
</g>
</svg>
</body></html>
